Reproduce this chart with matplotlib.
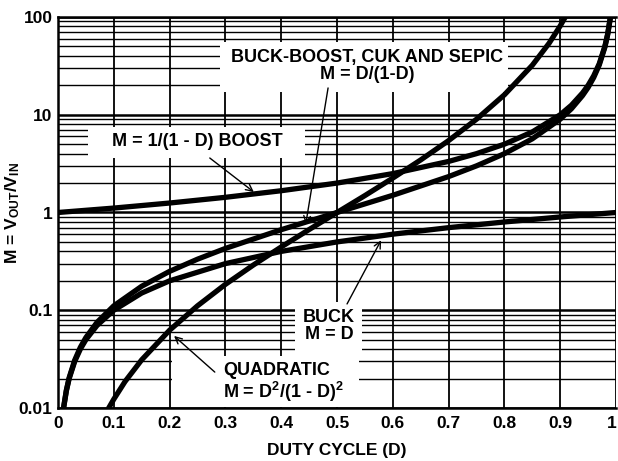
import matplotlib
matplotlib.use("Agg")
import matplotlib.pyplot as plt
import matplotlib.transforms as mtransforms
from matplotlib.ticker import LogLocator, NullFormatter
from matplotlib.patches import Rectangle

plt.rcParams['font.family'] = ['Liberation Sans', 'DejaVu Sans']
plt.rcParams['font.weight'] = 'bold'
plt.rcParams['mathtext.fontset'] = 'custom'
plt.rcParams['mathtext.rm'] = 'Liberation Sans:bold'
plt.rcParams['mathtext.it'] = 'Liberation Sans:bold'
plt.rcParams['mathtext.bf'] = 'Liberation Sans:bold'

# ---- data ----
buck_d = [0.01, 0.015, 0.02, 0.03, 0.04, 0.05, 0.07, 0.1, 0.15, 0.2, 0.3, 0.4, 0.5, 0.6, 0.7, 0.8, 0.9, 1.0]
buck_m = [0.01, 0.015, 0.02, 0.03, 0.04, 0.05, 0.07, 0.1, 0.15, 0.2, 0.3, 0.4, 0.5, 0.6, 0.7, 0.8, 0.9, 1.0]

boost_d = [0.0, 0.1, 0.2, 0.3, 0.4, 0.5, 0.6, 0.7, 0.75, 0.8, 0.85, 0.9, 0.92, 0.94, 0.95, 0.96, 0.97, 0.98, 0.985, 0.99]
boost_m = [1.0, 1.11, 1.25, 1.43, 1.67, 2.0, 2.5, 3.33, 4.0, 5.0, 6.67, 10.0, 12.5, 16.7, 20.0, 25.0, 33.3, 50.0, 66.7, 100.0]

bb_d = [0.01, 0.015, 0.02, 0.03, 0.04, 0.05, 0.07, 0.1, 0.15, 0.2, 0.25, 0.3, 0.4, 0.5, 0.6, 0.7, 0.75, 0.8, 0.85, 0.9, 0.92, 0.94, 0.95, 0.96, 0.97, 0.98, 0.985, 0.99]
bb_m = [0.0101, 0.0152, 0.0204, 0.0309, 0.0417, 0.0526, 0.0753, 0.111, 0.176, 0.25, 0.333, 0.429, 0.667, 1.0, 1.5, 2.33, 3.0, 4.0, 5.67, 9.0, 11.5, 15.7, 19.0, 24.0, 32.3, 49.0, 65.7, 99.0]

quad_d = [0.09, 0.1, 0.12, 0.15, 0.2, 0.25, 0.3, 0.35, 0.4, 0.45, 0.5, 0.55, 0.6, 0.65, 0.7, 0.75, 0.8, 0.85, 0.88, 0.9, 0.91]
quad_m = [0.0098, 0.0123, 0.0186, 0.0311, 0.0625, 0.111, 0.184, 0.290, 0.444, 0.669, 1.0, 1.49, 2.25, 3.45, 5.44, 9.0, 16.0, 32.1, 53.8, 81.0, 102.0]

x_ticks = [0, 0.1, 0.2, 0.3, 0.4, 0.5, 0.6, 0.7, 0.8, 0.9, 1.0]
x_labels = ['0', '0.1', '0.2', '0.3', '0.4', '0.5', '0.6', '0.7', '0.8', '0.9', '1']
y_ticks = [0.01, 0.1, 1, 10, 100]
y_labels = ['0.01', '0.1', '1', '10', '100']

fig = plt.figure(figsize=(6.18, 4.61), dpi=100)
ax = fig.add_axes([58/618, 53/461, 558/618, 391/461])
ax.set_yscale('log')
ax.set_xlim(0, 1)
ax.set_ylim(0.01, 100)

ax.set_xticks(x_ticks)
ax.set_xticklabels(x_labels)
ax.set_yticks(y_ticks)
ax.set_yticklabels(y_labels)
ax.yaxis.set_minor_locator(LogLocator(base=10, subs=[2, 3, 4, 5, 6, 7, 8, 9], numticks=20))
ax.yaxis.set_minor_formatter(NullFormatter())
ax.tick_params(which='both', length=0, labelsize=12.5)
ax.tick_params(axis='x', pad=6)
ax.tick_params(axis='y', pad=4)
ax.set_axisbelow(True)
ax.grid(True, which='major', axis='y', color='black', lw=1.8)
ax.grid(True, which='minor', axis='y', color='black', lw=1.0)
ax.grid(True, which='major', axis='x', color='black', lw=1.3)
for s in ax.spines.values():
    s.set_linewidth(1.8)
ax.spines['right'].set_visible(False)

# keep the last x tick label inside the picture
last = ax.get_xticklabels()[-1]
last.set_transform(last.get_transform() +
                   mtransforms.ScaledTranslation(-4/100, 0, fig.dpi_scale_trans))

# white label boxes (axes fraction)
boxes = [(0.290, 0.808, 0.516, 0.128),
         (0.054, 0.639, 0.389, 0.080),
         (0.425, 0.128, 0.120, 0.143),
         (0.204, 0.003, 0.335, 0.130)]
for (bx, by, bw, bh) in boxes:
    ax.add_patch(Rectangle((bx, by), bw, bh, transform=ax.transAxes,
                           facecolor='white', edgecolor='none', zorder=1))

lw = 3.8
for d, m in [(buck_d, buck_m), (boost_d, boost_m), (bb_d, bb_m), (quad_d, quad_m)]:
    ax.plot(d, m, color='black', lw=lw, zorder=3, solid_capstyle='butt')

fs = 13
ax.text(0.554, 31.5, 'BUCK-BOOST, CUK AND SEPIC\nM = D/(1-D)', ha='center', va='center',
        fontsize=fs, fontweight='bold', zorder=4, linespacing=1.05)
ax.text(0.249, 5.38, 'M = 1/(1 - D) BOOST', ha='center', va='center',
        fontsize=fs, fontweight='bold', zorder=4)
ax.text(0.486, 0.069, 'BUCK\nM = D', ha='center', va='center',
        fontsize=fs, fontweight='bold', zorder=4, linespacing=1.05)
ax.text(0.296, 0.018, 'QUADRATIC\nM = D$^2$/(1 - D)$^2$', ha='left', va='center',
        fontsize=fs, fontweight='bold', zorder=4, linespacing=1.0)

arrows = [((0.351, 1.62), (0.272, 3.61)),
          ((0.444, 0.76), (0.484, 18.8)),
          ((0.579, 0.52), (0.518, 0.116)),
          ((0.208, 0.0546), (0.281, 0.0233))]
for head, tail in arrows:
    ax.annotate('', xy=head, xytext=tail,
                arrowprops=dict(arrowstyle='->', lw=1.0, color='black',
                                shrinkA=0, shrinkB=0, mutation_scale=12), zorder=4)

fig.text(337/618, 1 - 450/461, 'DUTY CYCLE (D)', ha='center', va='center',
         fontsize=12.5, fontweight='bold')
fig.text(13/618, 1 - 213/461, 'M = V$_{OUT}$/V$_{IN}$', ha='center', va='center',
         rotation=90, fontsize=12.5, fontweight='bold')

fig.savefig('out.png', dpi=100)
